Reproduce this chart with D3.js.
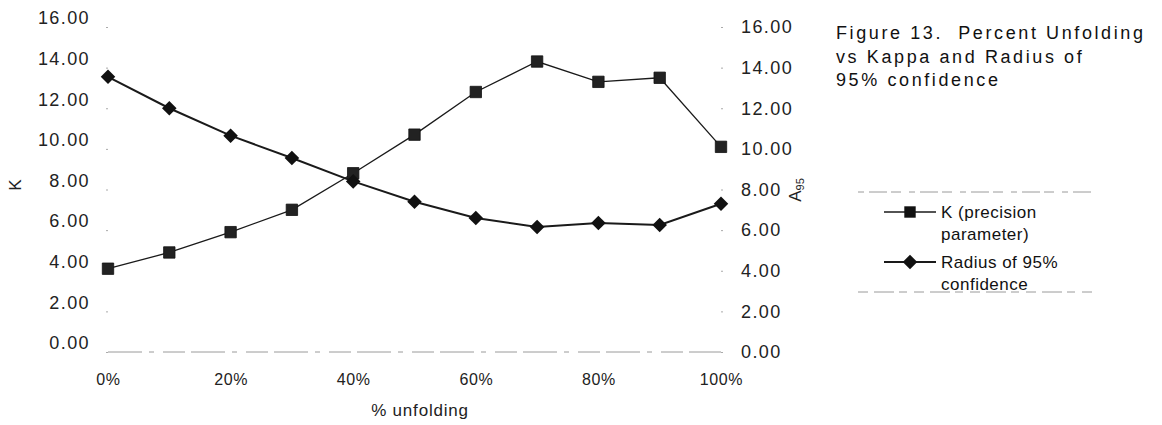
<!DOCTYPE html>
<html>
<head>
<meta charset="utf-8">
<script src="https://cdn.jsdelivr.net/npm/d3@7/dist/d3.min.js"></script>
<style>
  html, body { margin: 0; padding: 0; background: #fff; }
  svg { display: block; font-family: "Liberation Sans", Arial, Helvetica, sans-serif; }
</style>
</head>
<body>
<svg id="chart" width="1162" height="425"></svg>
<script>
// Percent unfolding steps (x) and the two measured series
const unfoldingPct = [0, 10, 20, 30, 40, 50, 60, 70, 80, 90, 100];
const kappa = [4.1, 4.9, 5.9, 7.0, 8.8, 10.7, 12.8, 14.3, 13.3, 13.5, 10.1];
const radius95 = [13.55, 12.0, 10.65, 9.55, 8.4, 7.4, 6.6, 6.15, 6.35, 6.25, 7.3];
const yTickValues = [0, 2, 4, 6, 8, 10, 12, 14, 16];
const xTickValues = [0, 20, 40, 60, 80, 100];
const titleLines = ["Figure 13.  Percent Unfolding", "vs Kappa and Radius of", "95% confidence"];
const legendItems = [
  { lines: ["K (precision", "parameter)"], symbol: "square" },
  { lines: ["Radius of 95%", "confidence"], symbol: "diamond" }
];

const svg = d3.select("#chart");
const ink = "#1a1a1a";

const x = d3.scaleLinear().domain([0, 100]).range([108, 721]);
const yLeft = d3.scaleLinear().domain([0, 16]).range([352, 27]);
const yRight = d3.scaleLinear().domain([0, 16]).range([352, 27]);

// Category axis line along zero
svg.append("line")
  .attr("x1", x(0)).attr("x2", x(100))
  .attr("y1", yLeft(0)).attr("y2", yLeft(0))
  .attr("stroke", "#9a9a9a").attr("stroke-width", 1)
  .attr("stroke-dasharray", "34,7,5,9,22,6");

// Left value axis (K)
const leftAxis = svg.append("g")
  .attr("transform", `translate(${x(0)},0)`)
  .call(d3.axisLeft(yLeft).tickValues(yTickValues).tickFormat(d3.format(".2f")).tickSize(2).tickPadding(16));
leftAxis.select(".domain").remove();
leftAxis.selectAll(".tick line").attr("stroke", "#aaa");
leftAxis.selectAll(".tick text")
  .attr("dy", "-0.18em")
  .style("font-size", "18px").style("letter-spacing", "1.4px")
  .attr("fill", "#222");

// Right value axis (A95)
const rightAxis = svg.append("g")
  .attr("transform", `translate(${x(100)},0)`)
  .call(d3.axisRight(yRight).tickValues(yTickValues).tickFormat(d3.format(".2f")).tickSize(2).tickPadding(18));
rightAxis.select(".domain").remove();
rightAxis.selectAll(".tick line").attr("stroke", "#aaa");
rightAxis.selectAll(".tick text")
  .style("font-size", "18px").style("letter-spacing", "1.4px")
  .attr("fill", "#222");

// Category axis labels
const bottomAxis = svg.append("g")
  .attr("transform", `translate(0,${yLeft(0)})`)
  .call(d3.axisBottom(x).tickValues(xTickValues).tickFormat(d => d + "%").tickSize(0).tickPadding(22));
bottomAxis.select(".domain").remove();
bottomAxis.selectAll(".tick text")
  .style("font-size", "16px").style("letter-spacing", "0.6px")
  .attr("fill", "#222");

// Axis titles
svg.append("text")
  .attr("x", 420).attr("y", 416)
  .attr("text-anchor", "middle")
  .style("font-size", "17px").style("letter-spacing", "0.8px")
  .attr("fill", "#222")
  .text("% unfolding");

svg.append("text")
  .attr("transform", "translate(21,185) rotate(-90)")
  .attr("text-anchor", "middle")
  .style("font-size", "17px")
  .attr("fill", "#222")
  .text("K");

const a95 = svg.append("text")
  .attr("transform", "translate(801,190) rotate(-90)")
  .attr("text-anchor", "middle")
  .style("font-size", "17px")
  .attr("fill", "#222");
a95.append("tspan").text("A");
a95.append("tspan").attr("dy", "0.3em").style("font-size", "11px").text("95");

// Series lines
const lineK = d3.line().x((d, i) => x(unfoldingPct[i])).y(d => yLeft(d));
const lineR = d3.line().x((d, i) => x(unfoldingPct[i])).y(d => yRight(d));

svg.append("path").datum(kappa)
  .attr("d", lineK).attr("fill", "none")
  .attr("stroke", ink).attr("stroke-width", 1.3);

svg.append("path").datum(radius95)
  .attr("d", lineR).attr("fill", "none")
  .attr("stroke", ink).attr("stroke-width", 2);

// Markers
const squareSym = d3.symbol().type(d3.symbolSquare).size(130);
const diamondSym = d3.symbol().type(d3.symbolDiamond2).size(135);

svg.append("g").selectAll("path")
  .data(kappa).join("path")
  .attr("transform", (d, i) => `translate(${x(unfoldingPct[i])},${yLeft(d)})`)
  .attr("d", squareSym())
  .attr("fill", "#222").attr("stroke", "#111").attr("stroke-width", 0.8);

svg.append("g").selectAll("path")
  .data(radius95).join("path")
  .attr("transform", (d, i) => `translate(${x(unfoldingPct[i])},${yRight(d)})`)
  .attr("d", diamondSym())
  .attr("fill", "#111");

// Title block
svg.append("g").selectAll("text")
  .data(titleLines).join("text")
  .attr("x", 836).attr("y", (d, i) => 39 + i * 23.5)
  .style("font-size", "18px").style("letter-spacing", "2.6px")
  .style("white-space", "pre")
  .attr("fill", "#111")
  .text(d => d);

// Legend
const legend = svg.append("g");
legend.append("line")
  .attr("x1", 858).attr("x2", 1093).attr("y1", 192).attr("y2", 192)
  .attr("stroke", "#9a9a9a").attr("stroke-dasharray", "6,5,18,4,10,8");
legend.append("line")
  .attr("x1", 858).attr("x2", 1095).attr("y1", 292).attr("y2", 292)
  .attr("stroke", "#9a9a9a").attr("stroke-dasharray", "10,6,20,5,8,7");

legendItems.forEach((item, i) => {
  const cy = 212 + i * 50;
  legend.append("line")
    .attr("x1", 884).attr("x2", 936).attr("y1", cy).attr("y2", cy)
    .attr("stroke", ink).attr("stroke-width", item.symbol === "square" ? 1.3 : 2);
  legend.append("path")
    .attr("transform", `translate(910,${cy})`)
    .attr("d", item.symbol === "square" ? squareSym() : diamondSym())
    .attr("fill", "#111");
  item.lines.forEach((t, j) => {
    legend.append("text")
      .attr("x", 941).attr("y", cy + 6 + j * 22)
      .style("font-size", "17px").style("letter-spacing", "0.5px")
      .attr("fill", "#111")
      .text(t);
  });
});
</script>
</body>
</html>
